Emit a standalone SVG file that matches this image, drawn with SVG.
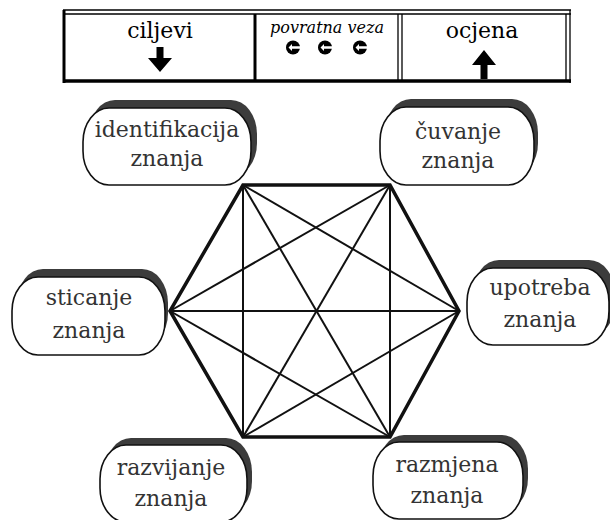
<svg xmlns="http://www.w3.org/2000/svg" width="610" height="520" viewBox="0 0 610 520">
<style>
text{font-family:'DejaVu Serif',serif}
.t{fill:#000}
.nt{fill:#333;font-size:22px;text-anchor:middle}
.sh{fill:#3c3c3c}
.bx{fill:#fff;stroke:#111;stroke-width:1.6}
.hex{fill:none;stroke:#111;stroke-width:3.5;stroke-linejoin:miter}
.dg{stroke:#111;stroke-width:2}
.tb{stroke:#000;fill:none}
</style>
<rect width="610" height="520" fill="#fff"/>
<g id="legend">
  <line class="tb" x1="63" y1="10" x2="571" y2="10" stroke-width="1.5"/>
  <line class="tb" x1="63" y1="14" x2="571" y2="14" stroke-width="1.5"/>
  <line class="tb" x1="63" y1="81" x2="571" y2="81" stroke-width="3.5"/>
  <line class="tb" x1="64" y1="10" x2="64" y2="83" stroke-width="3"/>
  <line class="tb" x1="255" y1="14" x2="255" y2="81" stroke-width="3"/>
  <line class="tb" x1="398" y1="14" x2="398" y2="81" stroke-width="1.3"/>
  <line class="tb" x1="402" y1="14" x2="402" y2="81" stroke-width="1.3"/>
  <line class="tb" x1="566" y1="14" x2="566" y2="81" stroke-width="1.3"/>
  <line class="tb" x1="570" y1="10" x2="570" y2="83" stroke-width="1.3"/>
  <text class="t" x="160" y="38" font-size="22" text-anchor="middle">ciljevi</text>
  <path d="M156.5,47 h7 v11 h8.5 l-12,14 l-12,-14 h8.5 z" fill="#000"/>
  <text class="t" x="327" y="33" font-size="16" font-style="italic" text-anchor="middle">povratna veza</text>
  <g id="fb1">
    <circle cx="293" cy="47.5" r="7" fill="#000"/>
    <path d="M288.5,47.5 l3.5,-3.5 v2.3 h8.5 v2.4 h-8.5 v2.3 z" fill="#fff"/>
  </g>
  <g id="fb2">
    <circle cx="325" cy="47.5" r="7" fill="#000"/>
    <path d="M320.5,47.5 l3.5,-3.5 v2.3 h8.5 v2.4 h-8.5 v2.3 z" fill="#fff"/>
  </g>
  <g id="fb3">
    <circle cx="360" cy="47.5" r="7" fill="#000"/>
    <path d="M355.5,47.5 l3.5,-3.5 v2.3 h8.5 v2.4 h-8.5 v2.3 z" fill="#fff"/>
  </g>
  <text class="t" x="482" y="38" font-size="22" text-anchor="middle">ocjena</text>
  <path d="M480.5,79 h7 v-14 h8.5 l-12,-15 l-12,15 h8.5 z" fill="#000"/>
</g>
<g id="connectors">
  <polygon class="hex" points="243,185 390,185 459,311 390,437 243,437 170,311"/>
  <line class="dg" x1="243" y1="185" x2="390" y2="437"/>
  <line class="dg" x1="390" y1="185" x2="243" y2="437"/>
  <line class="dg" x1="170" y1="311" x2="459" y2="311"/>
  <line class="dg" x1="243" y1="185" x2="243" y2="437"/>
  <line class="dg" x1="390" y1="185" x2="390" y2="437"/>
  <line class="dg" x1="243" y1="185" x2="459" y2="311"/>
  <line class="dg" x1="390" y1="185" x2="170" y2="311"/>
  <line class="dg" x1="170" y1="311" x2="390" y2="437"/>
  <line class="dg" x1="459" y1="311" x2="243" y2="437"/>
</g>
<g id="identifikacija">
  <rect class="sh" x="89" y="100" width="168" height="77" rx="26" ry="34"/>
  <rect class="bx" x="83" y="108" width="168" height="77" rx="26" ry="34"/>
  <text class="nt" x="167" y="137" font-size="20">identifikacija</text>
  <text class="nt" x="167" y="166">znanja</text>
</g>
<g id="cuvanje">
  <rect class="sh" x="385" y="99" width="153" height="78" rx="26" ry="34"/>
  <rect class="bx" x="380" y="107" width="154" height="78" rx="26" ry="34"/>
  <text class="nt" x="458" y="139">čuvanje</text>
  <text class="nt" x="458" y="168">znanja</text>
</g>
<g id="sticanje">
  <rect class="sh" x="17" y="269" width="151" height="78" rx="26" ry="34"/>
  <rect class="bx" x="12" y="277" width="153" height="78" rx="26" ry="34"/>
  <text class="nt" x="89" y="305">sticanje</text>
  <text class="nt" x="89" y="338">znanja</text>
</g>
<g id="upotreba">
  <rect class="sh" x="473" y="260" width="142" height="77" rx="26" ry="34"/>
  <rect class="bx" x="467" y="268" width="142" height="77" rx="26" ry="34"/>
  <text class="nt" x="540" y="295">upotreba</text>
  <text class="nt" x="540" y="327">znanja</text>
</g>
<g id="razvijanje">
  <rect class="sh" x="105" y="438" width="147" height="77" rx="26" ry="34"/>
  <rect class="bx" x="100" y="445" width="147" height="77" rx="26" ry="34"/>
  <text class="nt" x="171" y="475">razvijanje</text>
  <text class="nt" x="171" y="506">znanja</text>
</g>
<g id="razmjena">
  <rect class="sh" x="378" y="435" width="150" height="77" rx="26" ry="34"/>
  <rect class="bx" x="373" y="442" width="150" height="77" rx="26" ry="34"/>
  <text class="nt" x="447" y="472">razmjena</text>
  <text class="nt" x="447" y="503">znanja</text>
</g>
</svg>
